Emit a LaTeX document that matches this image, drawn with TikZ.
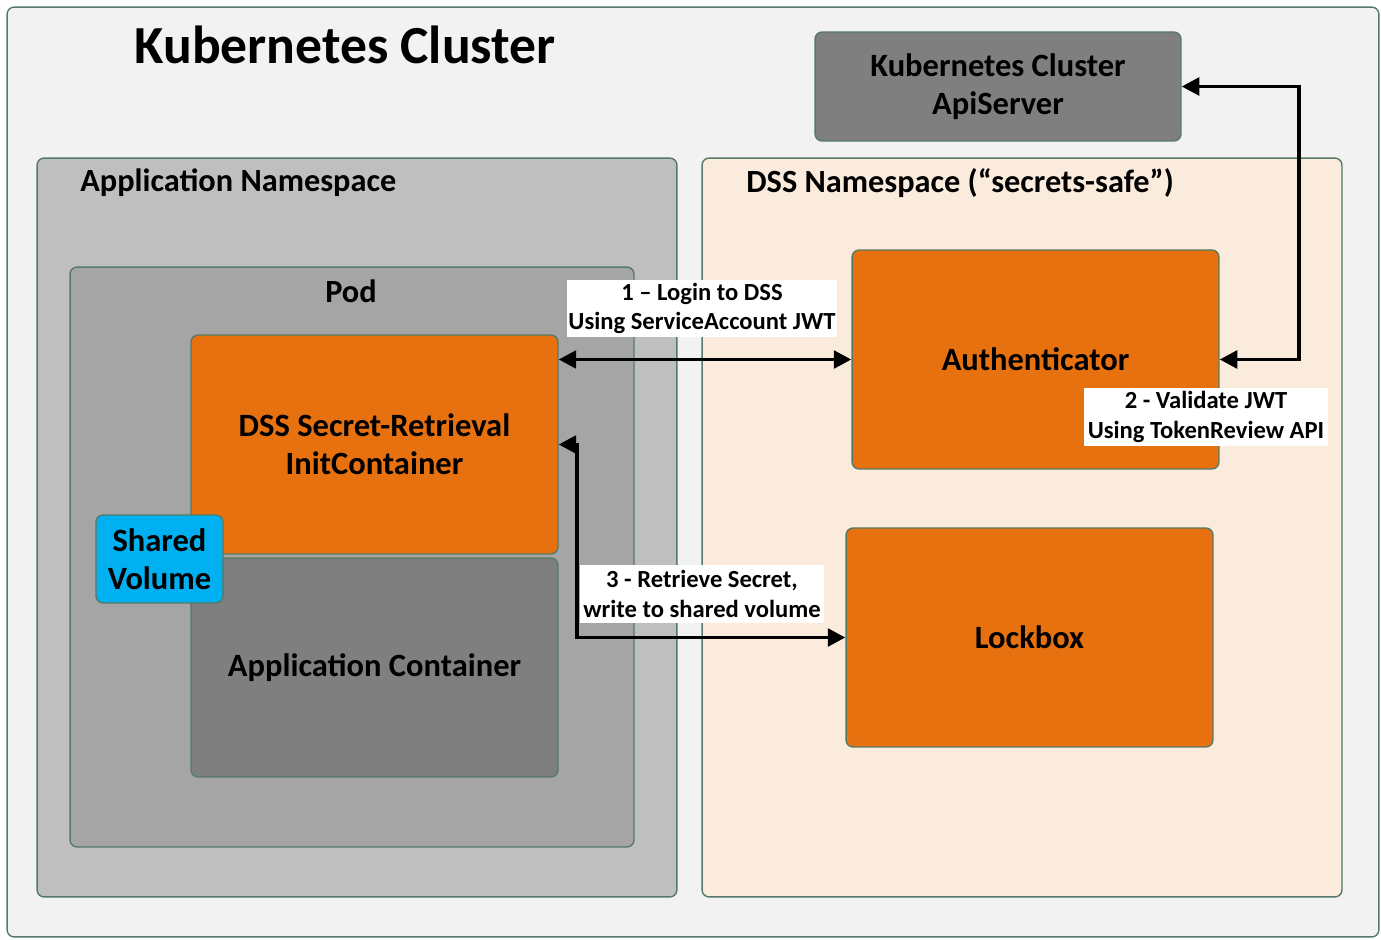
\documentclass[tikz,border=0pt]{standalone}
\usepackage{fontspec}
\setmainfont{Carlito}
\usepackage{tikz}
\usetikzlibrary{arrows.meta, positioning}

\definecolor{edgegreen}{HTML}{557A65}
\definecolor{clusterbg}{HTML}{F2F2F2}
\definecolor{appnsbg}{HTML}{BFBFBF}
\definecolor{podbg}{HTML}{A5A5A5}
\definecolor{dssnsbg}{HTML}{FBEBDD}
\definecolor{darkbox}{HTML}{7F7F7F}
\definecolor{dssorange}{HTML}{E8710F}
\definecolor{volblue}{HTML}{00B0F0}

\tikzset{
  area/.style={draw=edgegreen, line width=0.8pt, rounded corners=4pt},
  comp/.style={area, font=\fontsize{18.5}{21.5}\selectfont\bfseries, align=center, inner sep=0pt},
  arealabel/.style={font=\fontsize{18.4}{21}\selectfont\bfseries, inner sep=0pt},
  steplabel/.style={fill=white, font=\fontsize{14}{17}\selectfont\bfseries, align=center, inner sep=0pt},
  link/.style={{Triangle[length=10pt, width=10pt]}-{Triangle[length=10pt, width=10pt]}, line width=2.2pt}
}

\begin{document}
\begin{tikzpicture}[x=0.02cm, y=-0.02cm]
\useasboundingbox (0,0) rectangle (1381,939);

% Cluster frame and title
\node[area, fill=clusterbg, minimum width=27.44cm, minimum height=18.6cm] (cluster) at (693,472) {};
\node[font=\fontsize{30.5}{36}\selectfont\bfseries] (title) at (345,45) {Kubernetes Cluster};

% ApiServer (top right)
\node[comp, fill=darkbox, minimum width=7.32cm, minimum height=2.18cm] (api) at (998,86.5) {Kubernetes Cluster\\ApiServer};

% Namespaces
\node[area, fill=appnsbg, minimum width=12.8cm, minimum height=14.78cm] (appns) at (357,527.5) {};
\node[arealabel, anchor=west] (appnslbl) at (80,183) {Application Namespace};

\node[area, fill=dssnsbg, minimum width=12.8cm, minimum height=14.78cm] (dssns) at (1022,527.5) {};
\node[arealabel, anchor=west] (dssnslbl) at (746,183) {DSS Namespace (“secrets-safe”)};

% Pod and its containers
\node[area, fill=podbg, minimum width=11.28cm, minimum height=11.6cm] (pod) at (352,557) {};
\node[arealabel] (podlbl) at (351,291) {Pod};

\node[comp, fill=dssorange, minimum width=7.34cm, minimum height=4.38cm] (init) at (374.5,444.5) {DSS Secret-Retrieval\\InitContainer};
\node[comp, fill=darkbox, minimum width=7.34cm, minimum height=4.38cm] (appc) at (374.5,667.5) {Application Container};
\node[comp, fill=volblue, minimum width=2.54cm, minimum height=1.76cm] (vol) at (159.5,559) {Shared\\Volume};

% DSS components
\node[comp, fill=dssorange, minimum width=7.34cm, minimum height=4.38cm] (auth) at (1035.5,359.5) {Authenticator};
\node[comp, fill=dssorange, minimum width=7.34cm, minimum height=4.38cm] (lock) at (1029.5,637.5) {Lockbox};

% Step 1: login
\draw[link] (init.east |- auth.west) -- (auth.west);
\node[steplabel, minimum width=5.42cm, minimum height=1.14cm] (step1) at (702,308.5) {1 – Login to DSS\\Using ServiceAccount JWT};

% Step 2: token review
\draw[link] (auth.east) -- ++(79,0) |- (api.east);
\node[steplabel, minimum width=4.88cm, minimum height=1.16cm] (step2) at (1206,417) {2 - Validate JWT\\Using TokenReview API};

% Step 3: fetch secret
\draw[link] (init.east) -- ++(18,0) |- (lock.west);
\node[steplabel, minimum width=4.9cm, minimum height=1.16cm] (step3) at (702,594) {3 - Retrieve Secret,\\write to shared volume};

\end{tikzpicture}
\end{document}
